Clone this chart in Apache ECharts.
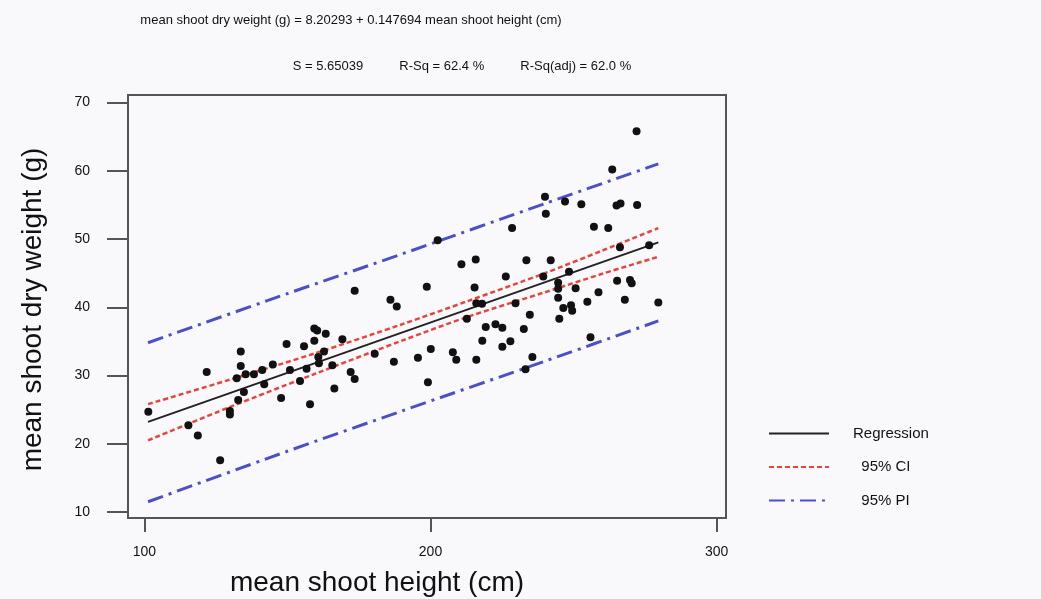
<!DOCTYPE html>
<html>
<head>
<meta charset="utf-8">
<script src="https://cdn.jsdelivr.net/npm/echarts@6/dist/echarts.min.js"></script>
<style>
  html, body { margin: 0; padding: 0; background: #f9f9fc; }
  #chart { width: 1041px; height: 599px; }
</style>
</head>
<body>
<div id="chart"></div>
<script>
// mean shoot height (cm) vs mean shoot dry weight (g)
const heightCm = [
  272.0, 263.5, 240.0, 247.0, 252.7, 265.0, 266.4, 272.2, 240.3, 228.5,
  257.1, 262.1, 202.5, 266.2, 276.4, 210.8, 215.8, 233.5, 242.0, 226.3,
  239.4, 248.4, 265.2, 269.7, 270.3, 198.7, 215.4, 244.6, 250.7, 244.6,
  258.7, 186.0, 188.2, 216.0, 218.0, 229.7, 244.6, 246.4, 249.1, 249.5,
  254.8, 267.9, 279.6, 234.7, 212.7, 245.0, 219.3, 222.7, 225.1, 232.6,
  218.1, 225.1, 227.9, 255.9, 180.5, 187.2, 195.6, 200.1, 207.8, 209.0,
  216.0, 235.6, 233.2, 199.1, 173.5, 159.4, 160.4, 163.4, 149.7, 155.8,
  159.4, 169.2, 133.7, 162.8, 160.8, 133.7, 144.9, 161.0, 121.8, 132.3,
  135.4, 138.3, 141.2, 150.9, 156.7, 165.7, 172.1, 173.5, 141.9, 154.4,
  134.8, 166.4, 132.8, 147.8, 129.9, 129.9, 157.9, 101.4, 115.4, 118.7,
  126.5
]
const dryWeightG = [
  65.8, 60.2, 56.2, 55.5, 55.1, 54.9, 55.2, 55.0, 53.7, 51.6,
  51.8, 51.6, 49.8, 48.8, 49.1, 46.3, 47.0, 46.9, 46.9, 44.5,
  44.5, 45.2, 43.9, 44.0, 43.5, 43.0, 42.9, 43.6, 42.8, 42.7,
  42.2, 41.1, 40.1, 40.6, 40.5, 40.6, 41.4, 39.9, 40.3, 39.5,
  40.8, 41.1, 40.7, 38.9, 38.3, 38.3, 37.1, 37.5, 37.0, 36.8,
  35.1, 34.2, 35.0, 35.6, 33.2, 32.0, 32.6, 33.9, 33.4, 32.3,
  32.3, 32.7, 30.9, 29.0, 42.4, 36.9, 36.6, 36.1, 34.6, 34.3,
  35.1, 35.3, 33.5, 33.5, 32.7, 31.4, 31.6, 31.8, 30.5, 29.6,
  30.2, 30.2, 30.8, 30.8, 31.0, 31.5, 30.5, 29.5, 28.7, 29.2,
  27.6, 28.1, 26.4, 26.7, 24.8, 24.3, 25.8, 24.7, 22.7, 21.2,
  17.6
]

// fitted line and bands
const regX = [101.3, 279.6]
const regY = [23.2, 49.5]
const ciX = [101.3, 130, 160, 190, 213, 240, 260, 279.6]
const ciUpper = [25.8, 29.4, 33.3, 37.5, 40.9, 45.0, 48.3, 51.6]
const ciLower = [20.5, 25.4, 30.3, 35.1, 38.6, 42.2, 44.9, 47.4]
const piX = [101.3, 150, 190, 240, 279.6]
const piUpper = [34.8, 42.0, 47.8, 55.2, 61.0]
const piLower = [11.5, 18.9, 24.8, 32.1, 38.0]

const xTicks = [100, 200, 300]
const yTicks = [10, 20, 30, 40, 50, 60, 70]

const zip = (xs, ys) => xs.map((x, i) => [x, ys[i]])
const font = "'Liberation Sans', Arial, sans-serif"

const ciStyle = { color: '#e8443a', width: 2.5, type: [5, 3] }
const piStyle = { color: '#4c50c8', width: 3, type: [16, 6, 3, 6] }

let chart = echarts.init(document.getElementById('chart'))
let option = {
  backgroundColor: '#f9f9fc',
  animation: false,
  title: [{
    text: 'mean shoot dry weight (g) = 8.20293 + 0.147694 mean shoot height (cm)',
    left: 346, top: 9, textAlign: 'center',
    textStyle: { fontFamily: font, fontSize: 13, fontWeight: 'normal', color: '#111' }
  }, {
    text: 'S = 5.65039          R-Sq = 62.4 %          R-Sq(adj) = 62.0 %',
    left: 457, top: 55, textAlign: 'center',
    textStyle: { fontFamily: font, fontSize: 13, fontWeight: 'normal', color: '#111' }
  }],
  legend: {
    orient: 'vertical',
    left: 763,
    top: 421,
    itemWidth: 60,
    itemHeight: 14,
    itemGap: 18.5,
    data: ['Regression', '95% CI', '95% PI'],
    itemStyle: { opacity: 0 },
    formatter (name) {
      return name === 'Regression' ? name : '  ' + name
    },
    textStyle: { fontFamily: font, fontSize: 15, color: '#111', padding: [0, 0, 0, 19] }
  },
  grid: {
    left: 128, right: 315, top: 95, bottom: 81,
    outerBoundsMode: 'none',
    show: true,
    borderColor: '#555',
    borderWidth: 2,
    backgroundColor: 'transparent'
  },
  xAxis: {
    type: 'value',
    min: 94.3,
    max: 303.25,
    name: 'mean shoot height (cm)',
    nameLocation: 'middle',
    nameGap: 51,
    nameTextStyle: { fontFamily: font, fontSize: 28, color: '#111', padding: [0, 100, 0, 0] },
    splitLine: { show: false },
    axisLine: { show: true, onZero: false, lineStyle: { color: '#555', width: 2 } },
    axisTick: { show: true, length: 14, customValues: xTicks, lineStyle: { color: '#555', width: 2 } },
    axisLabel: { customValues: xTicks, margin: 27, fontFamily: font, fontSize: 14, color: '#111' }
  },
  yAxis: {
    type: 'value',
    min: 9.12,
    max: 71.1,
    name: 'mean shoot dry weight (g)',
    nameLocation: 'middle',
    nameGap: 81,
    nameTextStyle: { fontFamily: font, fontSize: 28, color: '#111', padding: [0, 6, 0, 0] },
    splitLine: { show: false },
    axisLine: { show: true, onZero: false, lineStyle: { color: '#555', width: 2 } },
    axisTick: { show: true, length: 21, customValues: yTicks, lineStyle: { color: '#555', width: 2 } },
    axisLabel: { customValues: yTicks, margin: 38, fontFamily: font, fontSize: 14, color: '#111' }
  },
  series: [{
    name: 'points',
    type: 'scatter',
    data: zip(heightCm, dryWeightG),
    symbolSize: 8,
    itemStyle: { color: '#111', opacity: 1 },
    z: 5
  }, {
    name: 'Regression',
    type: 'line',
    data: zip(regX, regY),
    symbol: 'none',
    lineStyle: { color: '#222', width: 2 },
    itemStyle: { color: '#222' }
  }, {
    name: '95% CI',
    type: 'line',
    data: zip(ciX, ciUpper),
    symbol: 'none',
    smooth: 0.3,
    lineStyle: ciStyle,
    itemStyle: { color: ciStyle.color }
  }, {
    name: '95% CI',
    type: 'line',
    data: zip(ciX, ciLower),
    symbol: 'none',
    smooth: 0.3,
    lineStyle: ciStyle,
    itemStyle: { color: ciStyle.color }
  }, {
    name: '95% PI',
    type: 'line',
    data: zip(piX, piUpper),
    symbol: 'none',
    smooth: 0.3,
    lineStyle: piStyle,
    itemStyle: { color: piStyle.color }
  }, {
    name: '95% PI',
    type: 'line',
    data: zip(piX, piLower),
    symbol: 'none',
    smooth: 0.3,
    lineStyle: piStyle,
    itemStyle: { color: piStyle.color }
  }]
}
chart.setOption(option)
</script>
</body>
</html>
